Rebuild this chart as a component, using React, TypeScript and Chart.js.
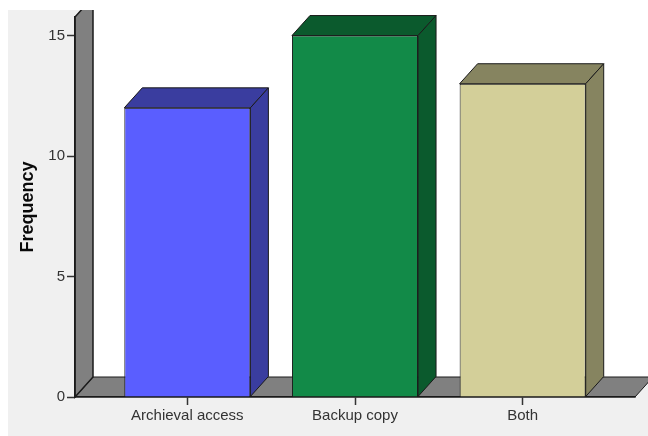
import React, { useEffect, useRef } from "react";
import { Chart, registerables } from "chart.js";

Chart.register(...registerables);

const categories = ["Archieval access", "Backup copy", "Both"];
const frequencies = [12, 15, 13];
const yTickValues = [0, 5, 10, 15];
const frontColors = ["#5a5eff", "#128a48", "#d3cf99"];
const shadeColors = ["#3a3d9f", "#0b5a2d", "#868460"];

const DX = 18;
const DY = 20;
const FONT = "'Liberation Sans', Arial, sans-serif";

const threeD = {
  id: "threeD",
  beforeDraw(chart: any) {
    const { ctx, chartArea: a, width, height } = chart;
    ctx.save();
    ctx.fillStyle = "#ffffff";
    ctx.fillRect(0, 0, width, height);
    ctx.fillStyle = "#f0f0f0";
    ctx.fillRect(8, 10, width - 8, height - 10);
    ctx.fillStyle = "#ffffff";
    ctx.fillRect(a.left + DX, 0, width, a.bottom - DY);
    ctx.beginPath();
    ctx.rect(8, 10, width - 8, height - 10);
    ctx.clip();
    // floor
    ctx.beginPath();
    ctx.moveTo(a.left, a.bottom);
    ctx.lineTo(a.left + DX, a.bottom - DY);
    ctx.lineTo(a.right + DX, a.bottom - DY);
    ctx.lineTo(a.right, a.bottom);
    ctx.closePath();
    ctx.fillStyle = "#808080";
    ctx.fill();
    ctx.strokeStyle = "#1a1a1a";
    ctx.lineWidth = 1;
    ctx.stroke();
    // wall
    ctx.beginPath();
    ctx.moveTo(a.left, a.bottom);
    ctx.lineTo(a.left, a.top);
    ctx.lineTo(a.left + DX, a.top - DY);
    ctx.lineTo(a.left + DX, a.bottom - DY);
    ctx.closePath();
    ctx.fillStyle = "#808080";
    ctx.fill();
    ctx.lineWidth = 1.5;
    ctx.stroke();
    ctx.restore();
  },
  afterDatasetsDraw(chart: any) {
    const { ctx } = chart;
    const meta = chart.getDatasetMeta(0);
    ctx.save();
    ctx.strokeStyle = "#1a1a1a";
    ctx.lineWidth = 1;
    ctx.lineJoin = "round";
    meta.data.forEach((bar: any, i: number) => {
      const { x, y, base, width } = bar.getProps(["x", "y", "base", "width"], true);
      const l = x - width / 2;
      const r = x + width / 2;
      ctx.fillStyle = shadeColors[i];
      ctx.beginPath();
      ctx.moveTo(l, y);
      ctx.lineTo(l + DX, y - DY);
      ctx.lineTo(r + DX, y - DY);
      ctx.lineTo(r, y);
      ctx.closePath();
      ctx.fill();
      ctx.stroke();
      ctx.beginPath();
      ctx.moveTo(r, y);
      ctx.lineTo(r + DX, y - DY);
      ctx.lineTo(r + DX, base - DY);
      ctx.lineTo(r, base);
      ctx.closePath();
      ctx.fill();
      ctx.stroke();
    });
    ctx.restore();
  },
};

export default function App() {
  const ref = useRef<HTMLCanvasElement>(null);
  useEffect(() => {
    if (!ref.current) return;
    const chart = new Chart(ref.current, {
      type: "bar",
      data: {
        datasets: [
          {
            data: categories.map((_, i) => ({ x: i, y: frequencies[i] })) as any,
            backgroundColor: frontColors,
            borderColor: "#1a1a1a",
            borderWidth: 1,
            barPercentage: 0.752,
            categoryPercentage: 1,
          },
        ],
      },
      options: {
        responsive: false,
        animation: false,
        layout: { padding: { top: 17, right: 13, left: 0, bottom: 0 } },
        plugins: { legend: { display: false }, tooltip: { enabled: false } },
        scales: {
          x: {
            type: "linear",
            offset: false,
            min: -0.67,
            max: 2.67,
            afterBuildTicks: (s: any) => {
              s.ticks = categories.map((_, i) => ({ value: i }));
            },
            afterFit: (s: any) => {
              s.height = 39;
            },
            grid: {
              display: true,
              offset: false,
              drawOnChartArea: false,
              drawTicks: true,
              tickLength: 8,
              tickColor: "#333333",
              tickWidth: 1.5,
            },
            border: { display: true, color: "#1a1a1a", width: 1.5 },
            ticks: {
              callback: (v: any) => categories[v] ?? "",
              font: { family: FONT, size: 15 },
              color: "#333333",
              padding: 2,
              maxRotation: 0,
              autoSkip: false,
            },
          },
          y: {
            min: 0,
            max: 15.77,
            afterBuildTicks: (s: any) => {
              s.ticks = yTickValues.map((v) => ({ value: v }));
            },
            afterFit: (s: any) => {
              s.width = 75;
            },
            grid: {
              display: true,
              drawOnChartArea: false,
              drawTicks: true,
              tickLength: 8,
              tickColor: "#333333",
              tickWidth: 1.5,
            },
            border: { display: true, color: "#1a1a1a", width: 1.5 },
            ticks: {
              font: { family: FONT, size: 15 },
              color: "#333333",
              padding: 2,
            },
            title: {
              display: true,
              text: "Frequency",
              font: { family: FONT, size: 18, weight: "bold" },
              color: "#0a0a0a",
              padding: { top: 17, bottom: 0 },
            },
          },
        },
      },
      plugins: [threeD],
    });
    return () => chart.destroy();
  }, []);
  return (
    <div style={{ position: "fixed", left: 0, top: 0, width: 648, height: 436 }}>
      <canvas ref={ref} width={648} height={436} style={{ display: "block" }} />
    </div>
  );
}
